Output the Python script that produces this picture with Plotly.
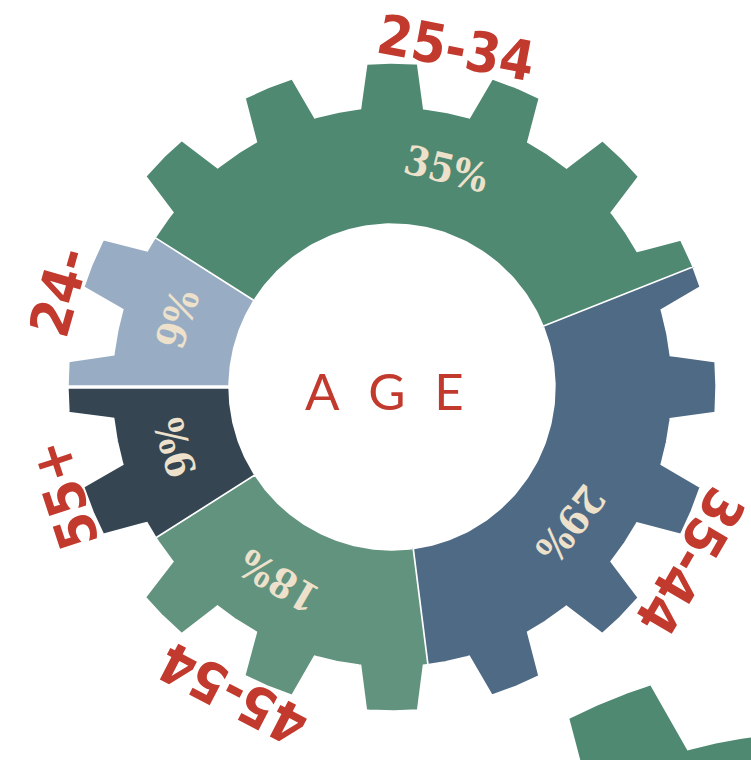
import numpy as np
import plotly.graph_objects as go

# ---- data ----
categories = ["24-", "25-34", "35-44", "45-54", "55+"]
values = [9, 35, 29, 18, 9]
pct_labels = ["9%", "35%", "29%", "18%", "9%"]
center_title = "AGE"

# ---- style ----
seg_colors = ["#98ADC3", "#4F8972", "#4F6A85", "#62937F", "#364552"]
red = "#C23A2D"
cream = "#EDE1CB"
START_ANGLE = 180.0          # first slice starts at 9 o'clock, goes clockwise
R_IN, R_BASE, R_TIP = 162, 281, 325
N_TEETH = 16
A_TIP, A_BASE = 4.67, 6.6    # tooth half-widths (deg) at tip / base
LABEL_R, PCT_R = 345, 225
label_nudge = [0.3, -5.3, 0.3, -2.2, 2.0]
pct_nudge = [-1.4, -8.6, -6.8, -5.1, -0.5]


def gear_radius(theta, r_base, r_tip, phase=0.0):
    step = 360.0 / N_TEETH
    d = abs(((theta - phase + step / 2) % step) - step / 2)
    if d <= A_TIP + 1e-9:
        return r_tip
    if d >= A_BASE - 1e-9:
        return r_base
    p1 = np.array([r_tip * np.cos(np.radians(A_TIP)), r_tip * np.sin(np.radians(A_TIP))])
    p2 = np.array([r_base * np.cos(np.radians(A_BASE)), r_base * np.sin(np.radians(A_BASE))])
    u = np.array([np.cos(np.radians(d)), np.sin(np.radians(d))])
    v = p2 - p1
    cross = lambda a, b: a[0] * b[1] - a[1] * b[0]
    return cross(p1, v) / cross(u, v)


def outline_angles(a_hi, a_lo, phase=0.0):
    """angles from a_hi down to a_lo (clockwise) including tooth corners"""
    step = 360.0 / N_TEETH
    angs = list(np.arange(a_hi, a_lo, -0.25)) + [a_lo]
    k0 = int(np.floor((a_lo - phase) / step)) - 1
    k1 = int(np.ceil((a_hi - phase) / step)) + 1
    for k in range(k0, k1 + 1):
        c = phase + k * step
        for off in (-A_BASE, -A_TIP, A_TIP, A_BASE):
            for eps in (-1e-6, 1e-6):
                a = c + off + eps
                if a_lo < a < a_hi:
                    angs.append(a)
    return sorted(set(angs), reverse=True)


fig = go.Figure()

# decorative partial gear (bottom right)
G2_CX, G2_CY, G2_S, G2_PHASE = 420.5, -811.5, 1.655, 112.2
angs = outline_angles(360.0, 0.0, G2_PHASE)
gx = [G2_CX + gear_radius(a, R_BASE * G2_S, R_TIP * G2_S, G2_PHASE) * np.cos(np.radians(a)) for a in angs]
gy = [G2_CY + gear_radius(a, R_BASE * G2_S, R_TIP * G2_S, G2_PHASE) * np.sin(np.radians(a)) for a in angs]
fig.add_trace(go.Scatter(x=gx, y=gy, fill="toself", mode="lines",
                         line=dict(color=seg_colors[1], width=0),
                         fillcolor=seg_colors[1], hoverinfo="skip", showlegend=False))

total = float(sum(values))
ang = START_ANGLE
annotations = []
for i, (cat, v) in enumerate(zip(categories, values)):
    span = 360.0 * v / total
    a_hi, a_lo = ang, ang - span
    outer = outline_angles(a_hi, a_lo)
    xs = [gear_radius(a, R_BASE, R_TIP) * np.cos(np.radians(a)) for a in outer]
    ys = [gear_radius(a, R_BASE, R_TIP) * np.sin(np.radians(a)) for a in outer]
    inner = np.linspace(a_lo, a_hi, 120)
    xs += list(R_IN * np.cos(np.radians(inner)))
    ys += list(R_IN * np.sin(np.radians(inner)))
    fig.add_trace(go.Scatter(x=xs, y=ys, fill="toself", mode="lines",
                             line=dict(color="white", width=3.4),
                             fillcolor=seg_colors[i], name=cat,
                             hoverinfo="name", showlegend=False))
    mid = (a_hi + a_lo) / 2
    la = mid + label_nudge[i]
    annotations.append(dict(
        x=LABEL_R * np.cos(np.radians(la)), y=LABEL_R * np.sin(np.radians(la)),
        text="<b>" + cat + "</b>", showarrow=False, textangle=90 - la,
        xanchor="center", yanchor="middle",
        font=dict(family="DejaVu Sans Condensed", size=55, color=red, weight="bold")))
    pa = mid + pct_nudge[i]
    annotations.append(dict(
        x=PCT_R * np.cos(np.radians(pa)), y=PCT_R * np.sin(np.radians(pa)),
        text="<b>" + pct_labels[i] + "</b>", showarrow=False, textangle=90 - pa,
        xanchor="center", yanchor="middle",
        font=dict(family="DejaVu Serif Condensed", size=40, color=cream, weight="bold")))
    ang = a_lo

annotations.append(dict(
    x=-8, y=-3, text="\u2002\u200a".join(center_title), showarrow=False,
    xanchor="center", yanchor="middle",
    font=dict(family="Lato", size=51, color=red)))

fig.update_layout(
    width=751, height=760, autosize=False,
    margin=dict(l=0, r=0, t=0, b=0),
    paper_bgcolor="white", plot_bgcolor="white",
    xaxis=dict(range=[-392, 359], visible=False, fixedrange=True),
    yaxis=dict(range=[-373, 387], visible=False, fixedrange=True),
    annotations=annotations,
    showlegend=False,
)

# remove the default page margin so the 751x760 figure fills the window exactly
fig.write_html(
    "out.html",
    config={"displayModeBar": False},
    post_script="document.body.style.margin='0';document.body.style.overflow='hidden';",
)
